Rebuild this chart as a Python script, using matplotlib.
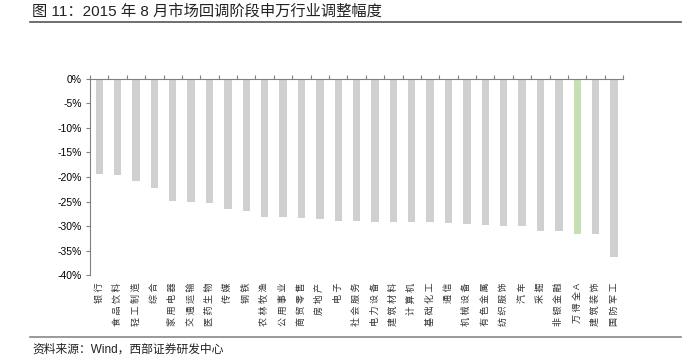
import matplotlib.pyplot as plt
import matplotlib.transforms as mtransforms

plt.rcParams['font.family'] = ['Liberation Sans', 'Noto Sans CJK SC', 'DejaVu Sans']

industries = ['银行', '食品饮料', '轻工制造', '综合', '家用电器', '交通运输', '医药生物',
              '传媒', '钢铁', '农林牧渔', '公用事业', '商贸零售', '房地产', '电子',
              '社会服务', '电力设备', '建筑材料', '计算机', '基础化工', '通信',
              '机械设备', '有色金属', '纺织服饰', '汽车', '采掘', '非银金融',
              '万得全A', '建筑装饰', '国防军工']
changes = [-19.3, -19.6, -20.8, -22.3, -24.8, -25.2, -25.4, -26.6, -27.0, -28.1,
           -28.1, -28.4, -28.6, -28.9, -29.0, -29.2, -29.1, -29.1, -29.1, -29.3,
           -29.6, -29.7, -29.9, -30.0, -31.0, -31.0, -31.7, -31.7, -36.3]
highlight = '万得全A'
y_ticks = [0, -5, -10, -15, -20, -25, -30, -35, -40]

fig = plt.figure(figsize=(6.84, 3.62), dpi=100)
ax = fig.add_axes([0.1316, 0.2403, 0.7795, 0.5415])

x = list(range(len(industries)))
colors = ['#c6e0b4' if name == highlight else '#d0d0d0' for name in industries]
ax.bar(x, changes, width=0.4, color=colors)

ax.set_xlim(-0.5, len(industries) - 0.5)
ax.set_ylim(-40, 0)
ax.set_yticks(y_ticks)
ax.set_yticklabels([f'{v}%' for v in y_ticks], fontsize=7.5)

# category boundary ticks on the zero line
ax.xaxis.set_ticks_position('top')
ax.set_xticks([i - 0.5 for i in range(len(industries) + 1)])
ax.tick_params(axis='x', direction='out', length=3, labeltop=False, labelbottom=False,
               color='#808080')
ax.tick_params(axis='y', direction='out', length=3, color='#808080', pad=3)

for side in ['right', 'bottom']:
    ax.spines[side].set_visible(False)
for side in ['left', 'top']:
    ax.spines[side].set_color('#808080')
    ax.spines[side].set_linewidth(0.8)

# industry names below the plot, rotated, with spaced characters
trans = mtransforms.blended_transform_factory(ax.transData, ax.transAxes)
for i, name in enumerate(industries):
    ax.text(i, -0.04, ' '.join(name), transform=trans, rotation=90, ha='center',
            va='top', fontsize=6.5, color='#333333')

# header, rules and source note
fig.text(0.047, 0.99, '图 11：2015 年 8 月市场回调阶段申万行业调整幅度',
         fontsize=11, va='top', ha='left', color='#222222')
fig.add_artist(plt.Line2D([0.044, 0.995], [0.938, 0.938], color='#555555', lw=1.2,
                          transform=fig.transFigure))
fig.add_artist(plt.Line2D([0.044, 0.995], [0.069, 0.069], color='#888888', lw=1.2,
                          transform=fig.transFigure))
fig.text(0.047, 0.033, '资料来源：Wind，西部证券研发中心', fontsize=8.5, va='center',
         ha='left', color='#222222')

fig.savefig('out.png', dpi=100)
